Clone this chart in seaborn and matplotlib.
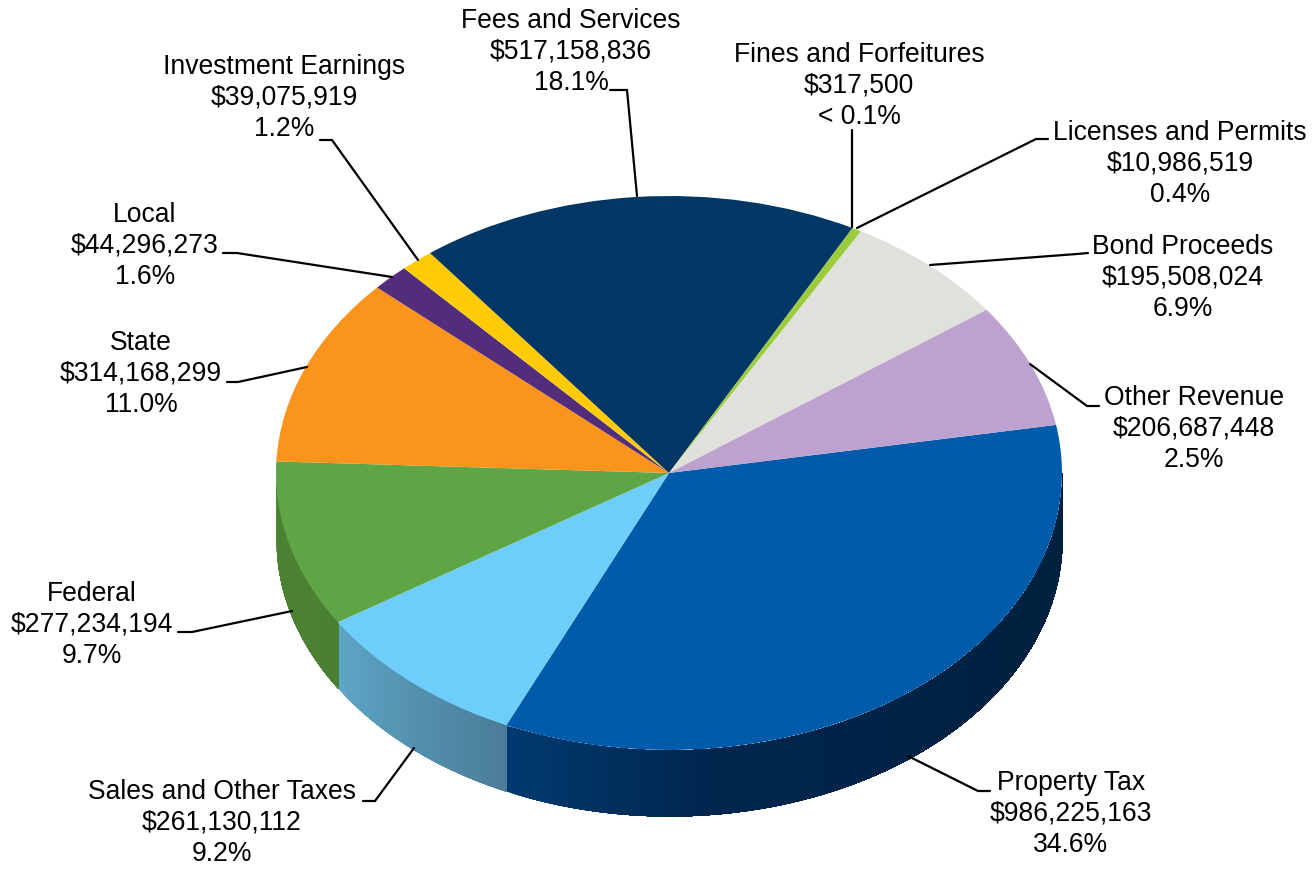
import numpy as np
import matplotlib
matplotlib.use("Agg")
import matplotlib.pyplot as plt
from matplotlib.transforms import Affine2D
import seaborn as sns

categories = ["Property Tax", "Sales and Other Taxes", "Federal", "State", "Local",
              "Investment Earnings", "Fees and Services", "Fines and Forfeitures",
              "Licenses and Permits", "Bond Proceeds", "Other Revenue"]
amounts = [986225163, 261130112, 277234194, 314168299, 44296273,
           39075919, 517158836, 317500, 10986519, 195508024, 206687448]
percent_labels = ["34.6%", "9.2%", "9.7%", "11.0%", "1.6%",
                  "1.2%", "18.1%", "< 0.1%", "0.4%", "6.9%", "2.5%"]
top_colors = ["#005bab", "#6dcef9", "#5ea545", "#fa941c", "#512d7c",
              "#ffcb05", "#003764", "#003764", "#9ccb3b", "#e0e1dd", "#bda2d0"]
side_colors = [["#003a70", "#00274f", "#002347", "#00213f", "#00213f"],
               ["#5ea6c7", "#4a7d99"],
               ["#4a8332", "#4a8032"]]

# layout, in picture pixels
W, H = 1314, 870
CX, CY, RX, RY, DEPTH = 669, 474, 393, 277, 66
START = 10.0
label_pos = [(1071, 814), (222, 823), (92, 625), (141, 374), (145, 246), (284, 98),
             (571, 52), (859, 86), (1180, 164), (1183, 278), (1194, 429)]
leaders = [[(990, 792), (978, 792), (908, 757)],
           [(363, 802), (375, 802), (414, 749)],
           [(178, 633), (192, 633), (292, 612)],
           [(227, 383), (238, 383), (307, 368)],
           [(223, 254), (237, 254), (392, 278)],
           [(320, 141), (332, 141), (418, 261)],
           [(610, 91), (627, 91), (637, 197)],
           [(852, 131), (852, 228)],
           [(1048, 140), (1036, 140), (857, 229)],
           [(1088, 254), (1077, 255), (930, 266)],
           [(1099, 407), (1087, 407), (1030, 365)]]

sns.set_theme(style="white")
plt.rcParams["font.family"] = ["Liberation Sans", "DejaVu Sans"]

fig = plt.figure(figsize=(W / 100, H / 100), dpi=100, facecolor="white")
ax = fig.add_axes([0, 0, 1, 1])

# rim of the disc, built from the same shares as the slices
shares = np.array(amounts, dtype=float) / np.sum(amounts) * 360
edges = START - np.concatenate([[0], np.cumsum(shares)])
depth = DEPTH / RY
for i, stops in enumerate(side_colors):
    # angles in the visible (lower) half, drawn left to right so strips overlap
    a, b = min(edges[i], 0), max(edges[i + 1], -180)
    if a <= b:
        continue
    n = max(int((a - b) * 2), 2)
    grid = np.linspace(b, a, n + 1)
    palette = sns.blend_palette(stops, n)
    for k in range(n):
        t = np.radians(np.linspace(grid[k], a, max(int(a - grid[k]) + 2, 2)))
        ax.fill_between(np.cos(t), np.sin(t), np.sin(t) - depth,
                        color=palette[k], linewidth=0)

ax.pie(amounts, colors=top_colors, startangle=START, counterclock=False, radius=1,
       wedgeprops={"linewidth": 0})

ax.set_aspect("auto")
ax.set_xlim(-CX / RX, (W - CX) / RX)
ax.set_ylim((CY - H) / RY, CY / RY)
ax.axis("off")

pixels = Affine2D().scale(1, -1).translate(0, H)
for pts in leaders:
    xs, ys = zip(*pts)
    ax.plot(xs, ys, color="black", lw=1.6, transform=pixels, solid_joinstyle="miter",
            clip_on=False, zorder=5)

for name, amount, pct, (x, y) in zip(categories, amounts, percent_labels, label_pos):
    ax.text(x, y, f"{name}\n${amount:,}\n{pct}", transform=pixels, ha="center", va="center",
            ma="center", fontsize=19.1, color="black", linespacing=1.26, zorder=6)

fig.savefig("out.png", dpi=100, facecolor="white")
